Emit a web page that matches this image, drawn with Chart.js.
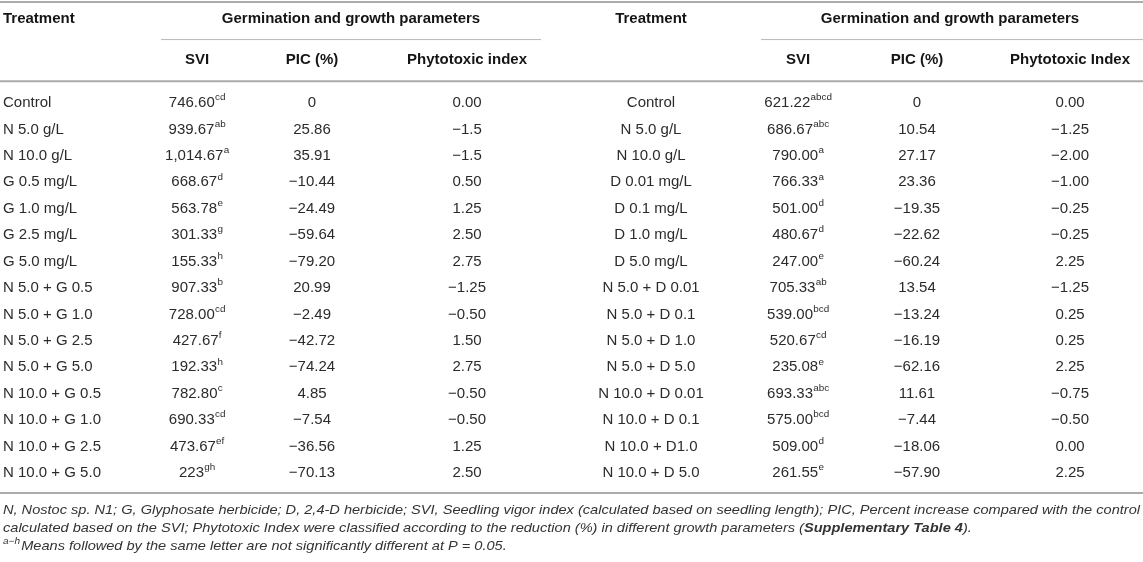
<!DOCTYPE html>
<html>
<head>
<meta charset="utf-8">
<script src="https://cdn.jsdelivr.net/npm/chart.js@4.4.1/dist/chart.umd.min.js"></script>
<style>
  html, body { margin: 0; padding: 0; background: #ffffff; }
  #wrap { width: 1143px; height: 562px; position: relative; }
</style>
</head>
<body>
<div id="wrap"><canvas id="c" width="1143" height="562"></canvas></div>
<script>
// ---------- DATA ----------
const leftTreatments = ['Control','N 5.0 g/L','N 10.0 g/L','G 0.5 mg/L','G 1.0 mg/L','G 2.5 mg/L','G 5.0 mg/L','N 5.0 + G 0.5','N 5.0 + G 1.0','N 5.0 + G 2.5','N 5.0 + G 5.0','N 10.0 + G 0.5','N 10.0 + G 1.0','N 10.0 + G 2.5','N 10.0 + G 5.0'];
const leftSVI = ['746.60','939.67','1,014.67','668.67','563.78','301.33','155.33','907.33','728.00','427.67','192.33','782.80','690.33','473.67','223'];
const leftSVILetters = ['cd','ab','a','d','e','g','h','b','cd','f','h','c','cd','ef','gh'];
const leftPIC = ['0','25.86','35.91','\u221210.44','\u221224.49','\u221259.64','\u221279.20','20.99','\u22122.49','\u221242.72','\u221274.24','4.85','\u22127.54','\u221236.56','\u221270.13'];
const leftPhyto = ['0.00','\u22121.5','\u22121.5','0.50','1.25','2.50','2.75','\u22121.25','\u22120.50','1.50','2.75','\u22120.50','\u22120.50','1.25','2.50'];

const rightTreatments = ['Control','N 5.0 g/L','N 10.0 g/L','D 0.01 mg/L','D 0.1 mg/L','D 1.0 mg/L','D 5.0 mg/L','N 5.0 + D 0.01','N 5.0 + D 0.1','N 5.0 + D 1.0','N 5.0 + D 5.0','N 10.0 + D 0.01','N 10.0 + D 0.1','N 10.0 + D1.0','N 10.0 + D 5.0'];
const rightSVI = ['621.22','686.67','790.00','766.33','501.00','480.67','247.00','705.33','539.00','520.67','235.08','693.33','575.00','509.00','261.55'];
const rightSVILetters = ['abcd','abc','a','a','d','d','e','ab','bcd','cd','e','abc','bcd','d','e'];
const rightPIC = ['0','10.54','27.17','23.36','\u221219.35','\u221222.62','\u221260.24','13.54','\u221213.24','\u221216.19','\u221262.16','11.61','\u22127.44','\u221218.06','\u221257.90'];
const rightPhyto = ['0.00','\u22121.25','\u22122.00','\u22121.00','\u22120.25','\u22120.25','2.25','\u22121.25','0.25','0.25','2.25','\u22120.75','\u22120.50','0.00','2.25'];

const groupHeader = 'Germination and growth parameters';
const leftColHeaders = ['Treatment','SVI','PIC (%)','Phytotoxic index'];
const rightColHeaders = ['Treatment','SVI','PIC (%)','Phytotoxic Index'];

const footLine1 = 'N, Nostoc sp. N1; G, Glyphosate herbicide; D, 2,4-D herbicide; SVI, Seedling vigor index (calculated based on seedling length); PIC, Percent increase compared with the control';
const footLine2a = 'calculated based on the SVI; Phytotoxic Index were classified according to the reduction (%) in different growth parameters (';
const footLine2b = 'Supplementary Table 4';
const footLine2c = ').';
const footLine3Sup = 'a\u2212h';
const footLine3 = 'Means followed by the same letter are not significantly different at P = 0.05.';

// ---------- LAYOUT (styles / positions, not data) ----------
const FONT = '"Liberation Sans", Arial, Helvetica, sans-serif';
const TEXT = '#2b2b2b';
const HEAD = '#151515';
const colX = { lT: 3, lS: 197, lP: 312, lX: 467, lG: 351, rT: 651, rS: 798, rP: 917, rX: 1070, rG: 950 };
const rowsY = { top: -3.82, head1: -3.20, sub: -2.40, head2: -1.62, headBottom: -0.82, bottom: 14.76, f1: 15.42, f2: 16.10, f3: 16.78 };

const columns = [
  { text: leftTreatments, x: colX.lT, align: 'left' },
  { text: leftSVI, sup: leftSVILetters, x: colX.lS, align: 'center' },
  { text: leftPIC, x: colX.lP, align: 'center' },
  { text: leftPhyto, x: colX.lX, align: 'center' },
  { text: rightTreatments, x: colX.rT, align: 'center' },
  { text: rightSVI, sup: rightSVILetters, x: colX.rS, align: 'center' },
  { text: rightPIC, x: colX.rP, align: 'center' },
  { text: rightPhyto, x: colX.rX, align: 'center' }
];

const datasets = columns.map((c, ci) => ({
  label: 'col' + ci,
  data: c.text.map((_, i) => ({ x: c.x, y: i })),
  pointRadius: 0,
  pointHoverRadius: 0,
  showLine: false
}));

function drawWithSup(ctx, main, sup, x, y, align, size) {
  ctx.font = size + 'px ' + FONT;
  const w1 = ctx.measureText(main).width;
  let w2 = 0;
  const ss = size * 0.66;
  if (sup) { ctx.font = ss + 'px ' + FONT; w2 = ctx.measureText(sup).width; }
  let sx = x;
  if (align === 'center') sx = x - (w1 + w2) / 2;
  else if (align === 'right') sx = x - (w1 + w2);
  ctx.textAlign = 'left';
  ctx.textBaseline = 'middle';
  ctx.font = size + 'px ' + FONT;
  ctx.fillText(main, sx, y);
  if (sup) {
    ctx.font = ss + 'px ' + FONT;
    ctx.fillText(sup, sx + w1 + 0.3, y - size * 0.36);
  }
}

const tablePlugin = {
  id: 'tablePlugin',
  afterDatasetsDraw(chart) {
    const ctx = chart.ctx;
    const xs = chart.scales.x, ys = chart.scales.y;
    const px = v => xs.getPixelForValue(v);
    const py = v => ys.getPixelForValue(v);
    ctx.save();
    function rule(x0, x1, yv, w, col) {
      ctx.beginPath();
      ctx.strokeStyle = col; ctx.lineWidth = w;
      ctx.moveTo(px(x0), py(yv)); ctx.lineTo(px(x1), py(yv)); ctx.stroke();
    }
    rule(0, 1143, rowsY.top, 2, '#ababab');
    rule(0, 1143, rowsY.headBottom, 2, '#ababab');
    rule(0, 1143, rowsY.bottom, 2, '#ababab');
    rule(161, 541, rowsY.sub, 1, '#b8b8b8');
    rule(761, 1143, rowsY.sub, 1, '#b8b8b8');

    // headers
    ctx.fillStyle = HEAD;
    ctx.textBaseline = 'middle';
    ctx.font = 'bold 15px ' + FONT;
    ctx.textAlign = 'left';
    ctx.fillText(leftColHeaders[0], px(colX.lT), py(rowsY.head1));
    ctx.textAlign = 'center';
    ctx.fillText(groupHeader, px(colX.lG), py(rowsY.head1));
    ctx.fillText(rightColHeaders[0], px(colX.rT), py(rowsY.head1));
    ctx.fillText(groupHeader, px(colX.rG), py(rowsY.head1));
    ctx.fillText(leftColHeaders[1], px(colX.lS), py(rowsY.head2));
    ctx.fillText(leftColHeaders[2], px(colX.lP), py(rowsY.head2));
    ctx.fillText(leftColHeaders[3], px(colX.lX), py(rowsY.head2));
    ctx.fillText(rightColHeaders[1], px(colX.rS), py(rowsY.head2));
    ctx.fillText(rightColHeaders[2], px(colX.rP), py(rowsY.head2));
    ctx.fillText(rightColHeaders[3], px(colX.rX), py(rowsY.head2));

    // body cells from dataset elements
    chart.data.datasets.forEach((ds, di) => {
      const meta = chart.getDatasetMeta(di);
      const col = columns[di];
      meta.data.forEach((el, i) => {
        ctx.fillStyle = TEXT;
        drawWithSup(ctx, col.text[i], col.sup ? col.sup[i] : null, el.x, el.y, col.align, 15);
      });
    });

    // footnotes
    ctx.fillStyle = '#333333';
    ctx.textAlign = 'left';
    ctx.textBaseline = 'middle';
    ctx.font = 'italic 13px ' + FONT;
    const target = 1137;
    const w1 = ctx.measureText(footLine1).width;
    const sxk = target / w1;
    ctx.save();
    ctx.translate(px(3), 0);
    ctx.scale(sxk, 1);
    ctx.fillText(footLine1, 0, py(rowsY.f1));
    let x = 0;
    ctx.font = 'italic 13px ' + FONT;
    ctx.fillText(footLine2a, x, py(rowsY.f2)); x += ctx.measureText(footLine2a).width;
    ctx.font = 'italic bold 13px ' + FONT;
    ctx.fillText(footLine2b, x, py(rowsY.f2)); x += ctx.measureText(footLine2b).width;
    ctx.font = 'italic 13px ' + FONT;
    ctx.fillText(footLine2c, x, py(rowsY.f2));
    ctx.font = 'italic 9px ' + FONT;
    ctx.fillText(footLine3Sup, 0, py(rowsY.f3) - 5);
    const sw = ctx.measureText(footLine3Sup).width;
    ctx.font = 'italic 13px ' + FONT;
    ctx.fillText(footLine3, sw + 1, py(rowsY.f3));
    ctx.restore();
    ctx.restore();
  }
};

new Chart(document.getElementById('c'), {
  type: 'scatter',
  data: { datasets },
  options: {
    responsive: false,
    animation: false,
    devicePixelRatio: 1,
    layout: { padding: 0 },
    events: [],
    plugins: { legend: { display: false }, tooltip: { enabled: false }, title: { display: false } },
    scales: {
      x: { type: 'linear', min: 0, max: 1143, display: false },
      y: { type: 'linear', min: -3.897, max: 17.367, reverse: true, display: false }
    }
  },
  plugins: [tablePlugin]
});
</script>
</body>
</html>
